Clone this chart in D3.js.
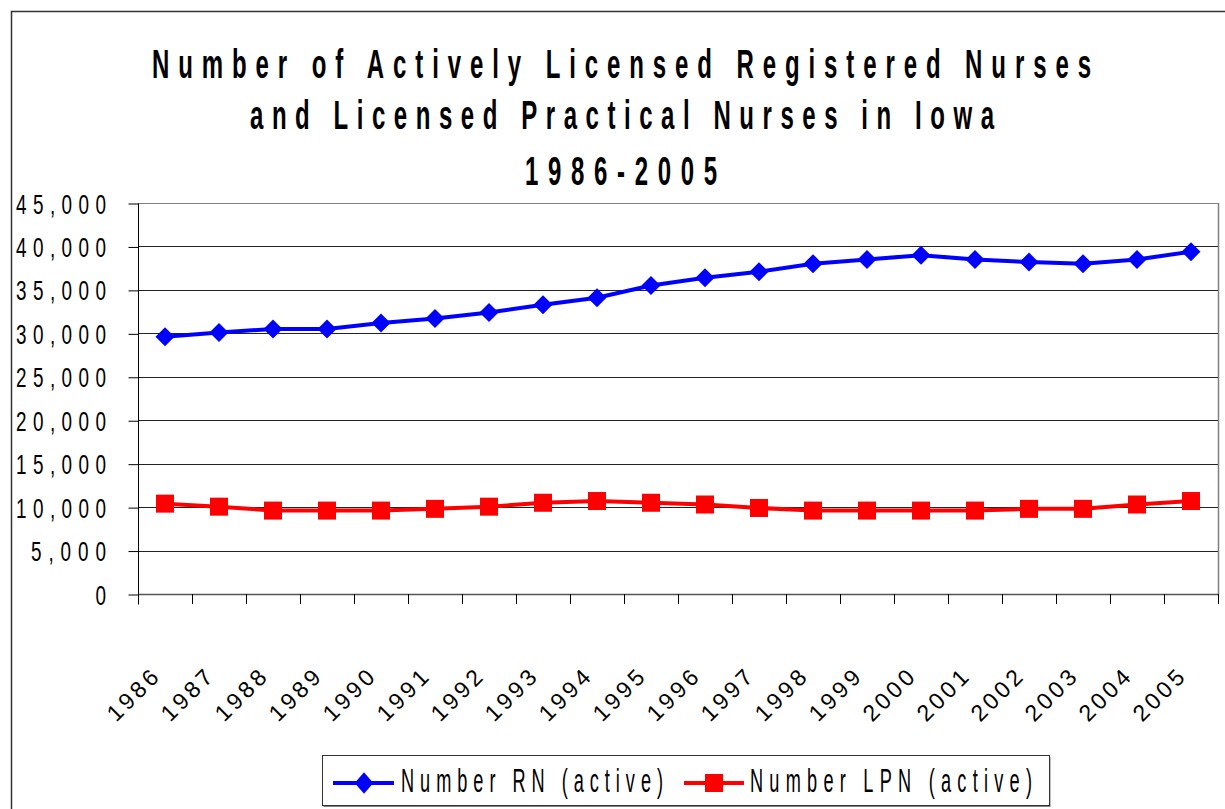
<!DOCTYPE html>
<html>
<head>
<meta charset="utf-8">
<script src="https://cdn.jsdelivr.net/npm/d3@7"></script>
<style>
  body { margin: 0; background: #fff; }
  svg { display: block; }
</style>
</head>
<body>
<script>
// Actively licensed RN / LPN counts in Iowa
let years = ['1986', '1987', '1988', '1989', '1990', '1991', '1992', '1993', '1994', '1995',
             '1996', '1997', '1998', '1999', '2000', '2001', '2002', '2003', '2004', '2005']
let rnActive = [29600, 30100, 30500, 30500, 31200, 31700, 32400, 33300, 34100, 35500,
                36400, 37100, 38000, 38500, 39000, 38500, 38200, 38000, 38500, 39400]
let lpnActive = [10400, 10050, 9600, 9600, 9600, 9800, 10050, 10500, 10700, 10500,
                 10300, 9900, 9600, 9600, 9600, 9600, 9800, 9800, 10300, 10700]
let yTicks = [0, 5000, 10000, 15000, 20000, 25000, 30000, 35000, 40000, 45000]
let titleLines = ['Number of Actively Licensed Registered Nurses',
                  'and Licensed Practical Nurses in Iowa',
                  '1986-2005']
let legendLabels = ['Number RN (active)', 'Number LPN (active)']

let width = 1225, height = 809
let plotLeft = 138, plotRight = 1218, plotTop = 203, plotBottom = 594

let svg = d3.select('body')
            .append('svg')
            .attr('width', width)
            .attr('height', height)

// outer frame of the chart (runs off the right and bottom edges)
svg.append('rect')
   .attr('x', 11.5).attr('y', 11.5)
   .attr('width', 1400).attr('height', 1000)
   .attr('fill', 'none')
   .attr('stroke', '#333')
   .attr('stroke-width', 1.5)

let x = d3.scaleBand().domain(years).range([plotLeft, plotRight])
let y = d3.scaleLinear().domain([0, 45000]).range([plotBottom, plotTop])

// squeezed, letter-spaced text like the original export
function squeezed(g, str, px, py, size, sx, len, anchor, weight) {
  return g.append('text')
          .attr('transform', `translate(${px},${py}) scale(${sx},1)`)
          .attr('text-anchor', anchor)
          .attr('textLength', len / sx)
          .attr('lengthAdjust', 'spacing')
          .style('font-family', '"Liberation Sans", Arial, sans-serif')
          .style('font-size', size + 'px')
          .style('font-weight', weight || 'normal')
          .attr('fill', '#000')
          .text(str)
}

// title
let titleCfg = [{ cx: 621.5, by: 78, len: 939 }, { cx: 622, by: 129, len: 744 }, { cx: 621, by: 185, len: 192 }]
titleLines.forEach((t, i) => {
  squeezed(svg, t, titleCfg[i].cx, titleCfg[i].by, 40, 0.6, titleCfg[i].len, 'middle', 'bold')
})

// gridlines
svg.append('g')
   .selectAll('line')
   .data(yTicks.filter(d => d > 0))
   .enter()
   .append('line')
   .attr('x1', plotLeft).attr('x2', plotRight)
   .attr('y1', d => Math.round(y(d)) + 0.5)
   .attr('y2', d => Math.round(y(d)) + 0.5)
   .attr('stroke', d => d == 45000 ? '#808080' : '#222')
   .attr('stroke-width', 1)

// right edge of the plot area
svg.append('line')
   .attr('x1', plotRight + 0.5).attr('x2', plotRight + 0.5)
   .attr('y1', plotTop).attr('y2', plotBottom)
   .attr('stroke', '#808080')
   .attr('stroke-width', 1.5)

// y axis with ticks on the left
let yAxis = d3.axisLeft(y).tickValues(yTicks).tickSize(10).tickFormat('')
let yg = svg.append('g')
            .attr('transform', `translate(${plotLeft + 0.5},0.5)`)
            .call(yAxis)
yg.select('.domain').attr('d', `M0,${plotTop}V${plotBottom + 10}`).attr('stroke', '#000')
yg.selectAll('.tick line').attr('stroke', '#000')

// y labels
let fmt = d3.format(',')
yTicks.forEach(v => {
  let s = fmt(v)
  squeezed(svg, s, 106, y(v) + 10.5, 27, 0.7, s.length * 15, 'end')
})

// x axis line and category boundary ticks
svg.append('line')
   .attr('x1', plotLeft).attr('x2', plotRight + 1)
   .attr('y1', plotBottom + 0.5).attr('y2', plotBottom + 0.5)
   .attr('stroke', '#555')
   .attr('stroke-width', 1.5)
svg.append('g')
   .selectAll('line')
   .data(years.map(d => x(d)).concat([x.range()[1]]))
   .enter()
   .append('line')
   .attr('x1', d => Math.round(d) + 0.5).attr('x2', d => Math.round(d) + 0.5)
   .attr('y1', plotBottom).attr('y2', plotBottom + 10)
   .attr('stroke', '#000')

// x labels, rotated 45 degrees
svg.append('g')
   .selectAll('text')
   .data(years)
   .enter()
   .append('text')
   .attr('transform', d => `translate(${x(d) + x.bandwidth() / 2 - 5},679) rotate(-45)`)
   .attr('text-anchor', 'end')
   .attr('textLength', 62)
   .attr('lengthAdjust', 'spacing')
   .style('font-family', '"Liberation Sans", Arial, sans-serif')
   .style('font-size', '23px')
   .text(d => d)

let cx = d => x(d) + x.bandwidth() / 2
let line = vals => d3.line().x((d, i) => cx(years[i])).y(d => y(d))(vals)

// RN series
svg.append('path')
   .attr('d', line(rnActive))
   .attr('fill', 'none')
   .attr('stroke', '#0000ff')
   .attr('stroke-width', 4)
svg.append('g')
   .selectAll('path')
   .data(rnActive)
   .enter()
   .append('path')
   .attr('d', d3.symbol(d3.symbolDiamond2, 230))
   .attr('transform', (d, i) => `translate(${cx(years[i])},${y(d)})`)
   .attr('fill', '#0000ff')

// LPN series
svg.append('path')
   .attr('d', line(lpnActive))
   .attr('fill', 'none')
   .attr('stroke', '#ff0000')
   .attr('stroke-width', 4)
svg.append('g')
   .selectAll('rect')
   .data(lpnActive)
   .enter()
   .append('rect')
   .attr('x', (d, i) => cx(years[i]) - 9)
   .attr('y', d => y(d) - 9)
   .attr('width', 18).attr('height', 18)
   .attr('fill', '#ff0000')

// legend
let lg = svg.append('g')
lg.append('rect')
  .attr('x', 323.5).attr('y', 757)
  .attr('width', 727).attr('height', 50)
  .attr('fill', '#808080')
lg.append('rect')
  .attr('x', 322.5).attr('y', 755.5)
  .attr('width', 727).attr('height', 50)
  .attr('fill', '#fff')
  .attr('stroke', '#333')
  .attr('stroke-width', 1)

lg.append('line')
  .attr('x1', 333).attr('x2', 394).attr('y1', 783).attr('y2', 783)
  .attr('stroke', '#0000ff').attr('stroke-width', 4)
lg.append('path')
  .attr('d', d3.symbol(d3.symbolDiamond2, 220))
  .attr('transform', 'translate(364,783) scale(1,1.15)')
  .attr('fill', '#0000ff')
squeezed(lg, legendLabels[0], 401, 792, 33, 0.55, 262, 'start')

lg.append('line')
  .attr('x1', 684).attr('x2', 744).attr('y1', 783).attr('y2', 783)
  .attr('stroke', '#ff0000').attr('stroke-width', 4)
lg.append('rect')
  .attr('x', 705).attr('y', 774)
  .attr('width', 18).attr('height', 18)
  .attr('fill', '#ff0000')
squeezed(lg, legendLabels[1], 750, 792, 33, 0.55, 282, 'start')
</script>
</body>
</html>
